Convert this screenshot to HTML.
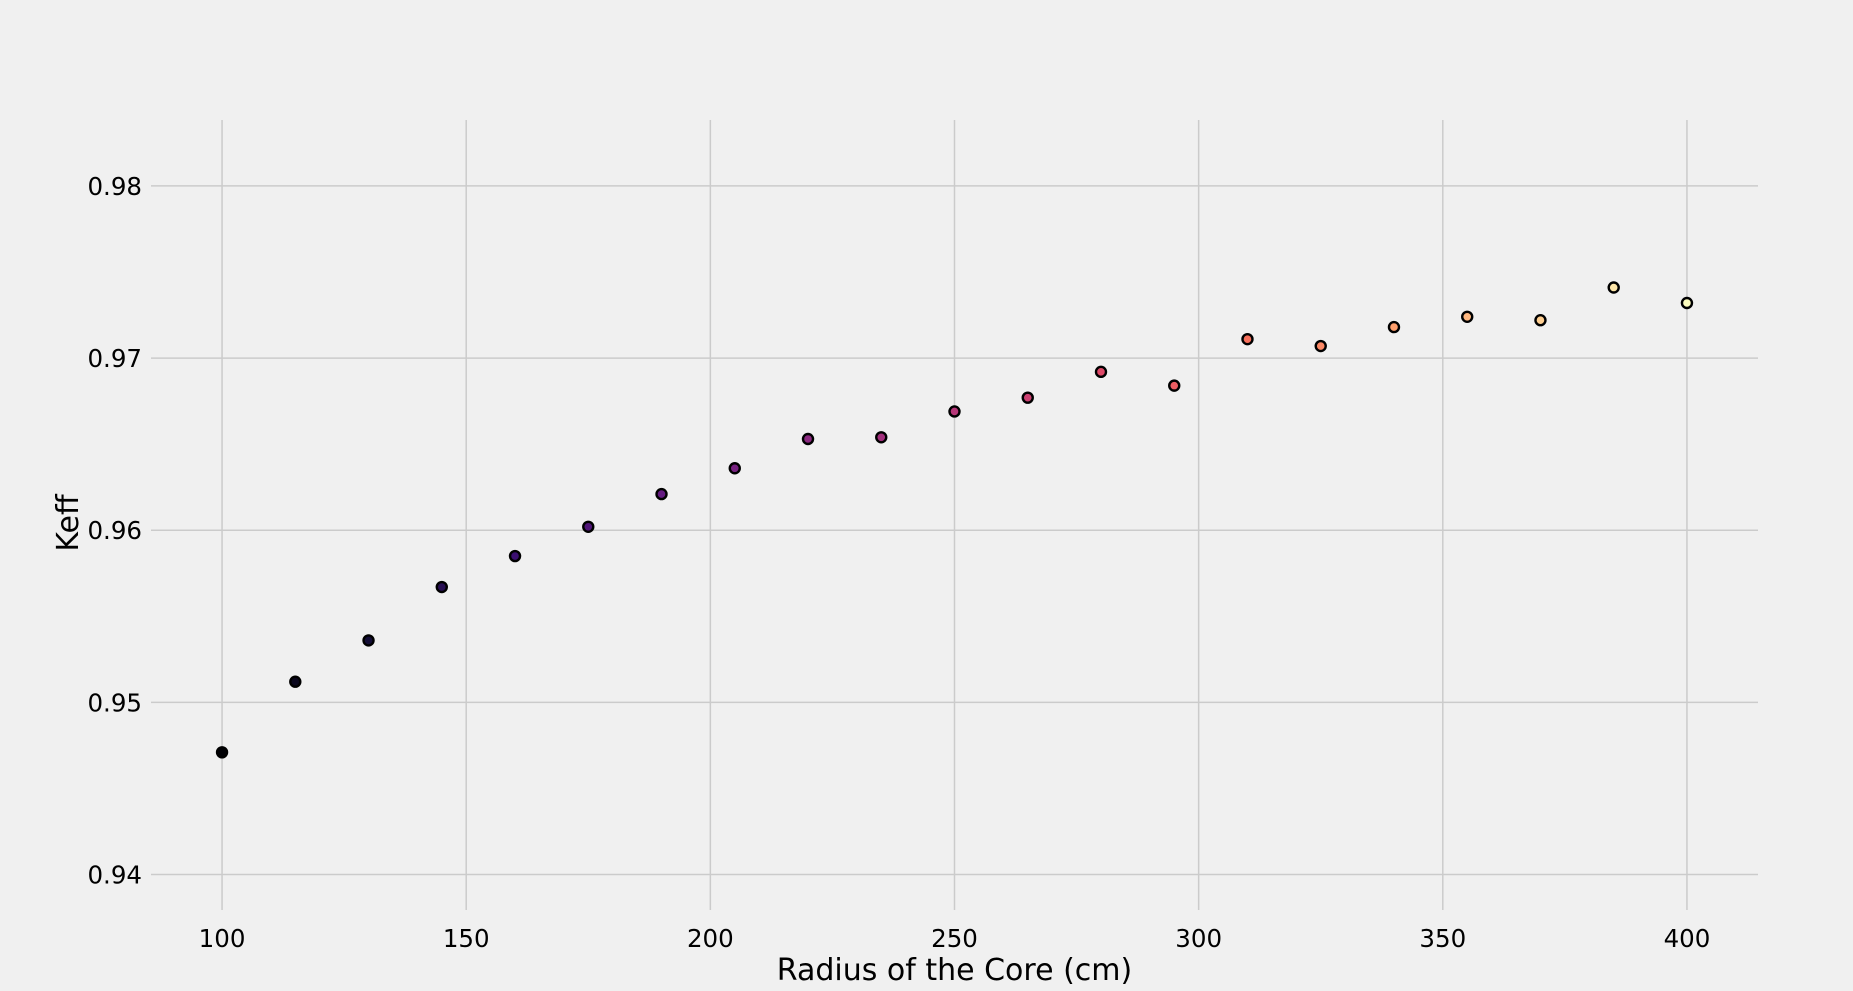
<!DOCTYPE html>
<html><head><meta charset="utf-8"><style>
html,body{margin:0;padding:0;background:#f0f0f0;}
svg{display:block;font-family:"DejaVu Sans","Liberation Sans",sans-serif;}
</style></head><body>
<svg id="chart" width="1853" height="991" viewBox="0 0 1853 991" xmlns="http://www.w3.org/2000/svg">
<rect x="0" y="0" width="1853" height="991" fill="#f0f0f0"/>
<g id="grid"></g>
<g id="ticks"></g>
<g id="points"></g>
<text x="954.5" y="980" font-size="30" text-anchor="middle" fill="#000">Radius of the Core (cm)</text>
<text transform="translate(78,523) rotate(-90)" font-size="30" text-anchor="middle" fill="#000">Keff</text>
</svg>
<script>
const radii = [100,115,130,145,160,175,190,205,220,235,250,265,280,295,310,325,340,355,370,385,400];
const keff = [0.9471,0.9512,0.9536,0.9567,0.9585,0.9602,0.9621,0.9636,0.9653,0.9654,0.9669,0.9677,0.9692,0.9684,0.9711,0.9707,0.9718,0.9724,0.9722,0.9741,0.9732];
const xTicks = [100,150,200,250,300,350,400];
const yTicks = [0.94,0.95,0.96,0.97,0.98];
const yTickLabels = ["0.94","0.95","0.96","0.97","0.98"];

const L=151,R=1758,T=120,B=910;
const xMin=85.45,xMax=414.55,yMin=0.93794,yMax=0.98383;
function xs(v){return L+(v-xMin)/(xMax-xMin)*(R-L);}
function ys(v){return B-(v-yMin)/(yMax-yMin)*(B-T);}
const NS="http://www.w3.org/2000/svg";
function mk(tag,attrs,parent){const e=document.createElementNS(NS,tag);for(const k in attrs)e.setAttribute(k,attrs[k]);parent.appendChild(e);return e;}
const grid=document.getElementById('grid'),ticks=document.getElementById('ticks'),pts=document.getElementById('points');
xTicks.forEach(t=>{
  const l=mk('line',{x1:xs(t),x2:xs(t),y1:T,y2:B,stroke:'#cbcbcb','stroke-width':1.5},grid);
  
  
  const tx=mk('text',{x:xs(t),y:947,'font-size':24.5,'text-anchor':'middle',fill:'#000'},ticks);
  tx.textContent=String(t);
  
  
});
yTicks.forEach((t,i)=>{
  const l=mk('line',{x1:L,x2:R,y1:ys(t),y2:ys(t),stroke:'#cbcbcb','stroke-width':1.5},grid);
  
  
  const tx=mk('text',{x:142,y:ys(t)+9,'font-size':24.5,'text-anchor':'end',fill:'#000'},ticks);
  tx.textContent=yTickLabels[i];
  
  
});
const stops=[[0,0,4],[20,14,54],[59,15,112],[100,26,128],[140,41,129],[183,55,121],[222,73,104],[247,112,92],[254,159,109],[254,207,146],[252,253,191]];
function magma(f){const p=f*10,i=Math.min(9,Math.floor(p)),r=p-i,a=stops[i],b=stops[i+1];
 return 'rgb('+a.map((c,k)=>Math.round(c+(b[k]-c)*r)).join(',')+')';}
radii.forEach((r,i)=>{
  const c=mk('circle',{cx:xs(r),cy:ys(keff[i]),r:5,fill:magma(i/(radii.length-1)),stroke:'#000','stroke-width':2.4},pts);
  
  
});
</script>
</body></html>
